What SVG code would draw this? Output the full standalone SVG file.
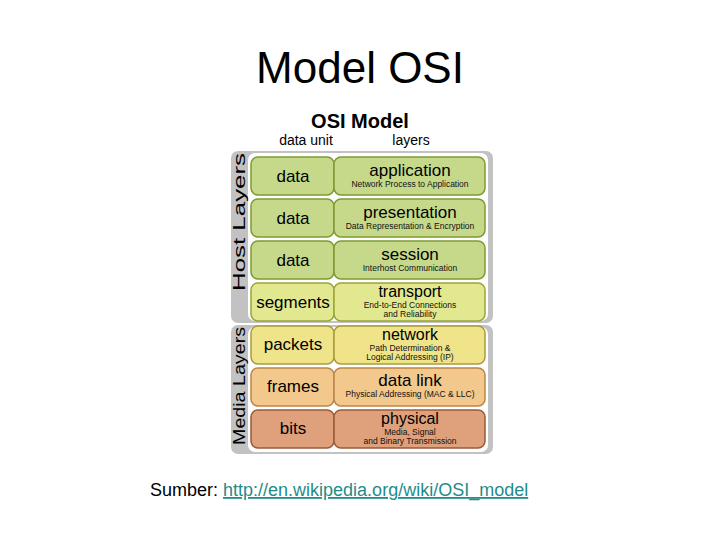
<svg xmlns="http://www.w3.org/2000/svg" width="720" height="540" viewBox="0 0 720 540">
<style>
text{font-family:"Liberation Sans",Arial,sans-serif;fill:#000}
.u{font-size:17px;text-anchor:middle}
.n{font-size:17px;text-anchor:middle}
.n2{font-size:16px;text-anchor:middle}
.s{font-size:8.5px;text-anchor:middle;fill:#111}
.g rect{stroke-width:1.5}
.gr rect{fill:#c6d98b;stroke:#7d9a32}
.tr rect{fill:#e1e88f;stroke:#9aa43a}
.nw rect{fill:#efe48a;stroke:#aa9c3e}
.dl rect{fill:#f2c88c;stroke:#bb8645}
.ph rect{fill:#dfa17b;stroke:#9c5a37}
</style>
<rect width="720" height="540" fill="#fff"/>
<text x="360" y="83" style="font-size:44px;text-anchor:middle">Model OSI</text>
<text x="360" y="128" style="font-size:20px;font-weight:bold;text-anchor:middle">OSI Model</text>
<text x="306" y="145" style="font-size:14px;text-anchor:middle">data unit</text>
<text x="411" y="145" style="font-size:14px;text-anchor:middle">layers</text>
<g id="panels">
<rect x="231" y="151" width="262" height="172" rx="7" fill="#c2c2c2"/>
<rect x="231" y="325" width="262" height="129" rx="7" fill="#c2c2c2"/>
<rect x="248" y="153" width="240" height="168" rx="7" fill="#fff"/>
<rect x="248" y="327" width="240" height="125" rx="7" fill="#fff"/>
<text transform="translate(245,222) rotate(-90)" style="font-size:17px;text-anchor:middle" textLength="138" lengthAdjust="spacingAndGlyphs">Host Layers</text>
<text transform="translate(245,386) rotate(-90)" style="font-size:17px;text-anchor:middle" textLength="118" lengthAdjust="spacingAndGlyphs">Media Layers</text>
</g>
<g id="application" class="g gr">
<rect x="251" y="157" width="83" height="38" rx="7"/><rect x="334" y="157" width="151" height="38" rx="7"/>
<text class="u" x="293" y="182">data</text><text class="n" x="410" y="176">application</text><text class="s" x="410" y="187">Network Process to Application</text>
</g>
<g id="presentation" class="g gr">
<rect x="251" y="199" width="83" height="38" rx="7"/><rect x="334" y="199" width="151" height="38" rx="7"/>
<text class="u" x="293" y="224">data</text><text class="n" x="410" y="218">presentation</text><text class="s" x="410" y="229">Data Representation &amp; Encryption</text>
</g>
<g id="session" class="g gr">
<rect x="251" y="241" width="83" height="38" rx="7"/><rect x="334" y="241" width="151" height="38" rx="7"/>
<text class="u" x="293" y="266">data</text><text class="n" x="410" y="260">session</text><text class="s" x="410" y="271">Interhost Communication</text>
</g>
<g id="transport" class="g tr">
<rect x="251" y="283" width="83" height="38" rx="7"/><rect x="334" y="283" width="151" height="38" rx="7"/>
<text class="u" x="293" y="308">segments</text><text class="n2" x="410" y="297">transport</text><text class="s" x="410" y="308">End-to-End Connections</text><text class="s" x="410" y="317">and Reliability</text>
</g>
<g id="network" class="g nw">
<rect x="251" y="326" width="83" height="38" rx="7"/><rect x="334" y="326" width="151" height="38" rx="7"/>
<text class="u" x="293" y="350">packets</text><text class="n2" x="410" y="340">network</text><text class="s" x="410" y="351">Path Determination &amp;</text><text class="s" x="410" y="360">Logical Addressing (IP)</text>
</g>
<g id="datalink" class="g dl">
<rect x="251" y="368" width="83" height="38" rx="7"/><rect x="334" y="368" width="151" height="38" rx="7"/>
<text class="u" x="293" y="392">frames</text><text class="n" x="410" y="386">data link</text><text class="s" x="410" y="397">Physical Addressing (MAC &amp; LLC)</text>
</g>
<g id="physical" class="g ph">
<rect x="251" y="410" width="83" height="38" rx="7"/><rect x="334" y="410" width="151" height="38" rx="7"/>
<text class="u" x="293" y="434">bits</text><text class="n2" x="410" y="424">physical</text><text class="s" x="410" y="435">Media, Signal</text><text class="s" x="410" y="444">and Binary Transmission</text>
</g>
<g id="connectors"></g>
<text x="150" y="496" style="font-size:18px">Sumber: <tspan style="fill:#1f8c8c;text-decoration:underline">http://en.wikipedia.org/wiki/OSI_model</tspan></text>
</svg>
